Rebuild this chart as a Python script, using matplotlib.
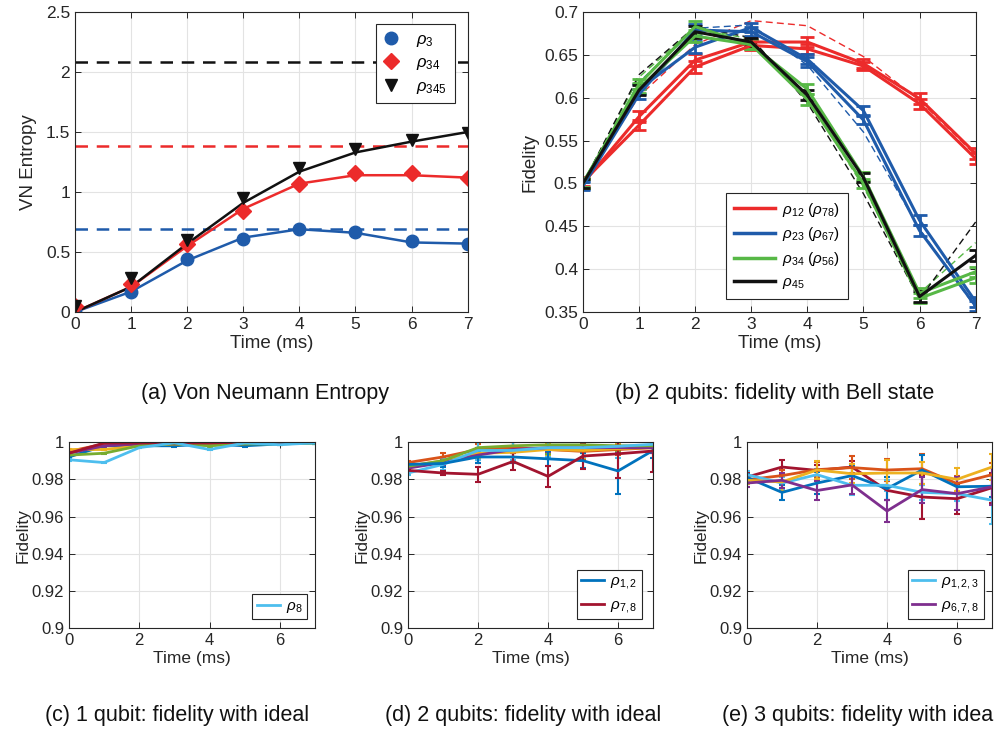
import numpy as np
import matplotlib
matplotlib.use('Agg')
import matplotlib.pyplot as plt
from matplotlib.lines import Line2D
from matplotlib.ticker import FuncFormatter

plt.rcParams['font.family'] = ['Liberation Sans', 'DejaVu Sans']
plt.rcParams['mathtext.fontset'] = 'custom'
plt.rcParams['mathtext.it'] = 'Liberation Sans:italic'
plt.rcParams['mathtext.rm'] = 'Liberation Sans'

time = np.arange(8)

# (a) Von Neumann entropy: measured points and model lines
ent_rho3 = [0.00, 0.17, 0.44, 0.61, 0.69, 0.67, 0.59, 0.57]
ent_rho34 = [0.05, 0.23, 0.57, 0.84, 1.07, 1.16, 1.16, 1.12]
ent_rho345 = [0.05, 0.28, 0.60, 0.95, 1.20, 1.36, 1.43, 1.49]
fit_rho3 = [0.00, 0.17, 0.43, 0.62, 0.69, 0.66, 0.58, 0.57]
fit_rho34 = [0.00, 0.21, 0.55, 0.86, 1.07, 1.14, 1.14, 1.12]
fit_rho345 = [0.00, 0.21, 0.57, 0.91, 1.17, 1.33, 1.42, 1.50]
max_ent = [np.log(2), np.log(4), np.log(8)]

# (b) 2-qubit fidelity with Bell state
bell_rho12 = [0.500, 0.578, 0.644, 0.665, 0.665, 0.640, 0.599, 0.535]
bell_rho78 = [0.502, 0.568, 0.636, 0.661, 0.657, 0.637, 0.593, 0.529]
bell_rho23 = [0.498, 0.610, 0.659, 0.682, 0.645, 0.585, 0.457, 0.362]
bell_rho67 = [0.497, 0.604, 0.679, 0.677, 0.642, 0.574, 0.445, 0.357]
bell_rho34 = [0.500, 0.616, 0.683, 0.662, 0.610, 0.508, 0.372, 0.397]
bell_rho56 = [0.501, 0.611, 0.672, 0.662, 0.598, 0.500, 0.366, 0.390]
bell_rho45 = [0.500, 0.609, 0.677, 0.665, 0.603, 0.507, 0.368, 0.416]
bell_err = [0.005, 0.006, 0.007, 0.005, 0.006, 0.005, 0.006, 0.006]
ideal_12 = [0.500, 0.602, 0.662, 0.690, 0.684, 0.648, 0.597, 0.533]
ideal_23 = [0.500, 0.618, 0.681, 0.685, 0.638, 0.560, 0.447, 0.355]
ideal_34 = [0.500, 0.624, 0.682, 0.668, 0.600, 0.496, 0.372, 0.431]
ideal_45 = [0.500, 0.627, 0.683, 0.670, 0.594, 0.488, 0.365, 0.455]

# (c) 1 qubit fidelity with ideal
q1_fid = [
    [0.992, 0.998, 0.998, 0.998, 0.999, 0.998, 0.999, 0.9995],
    [0.995, 0.999, 0.999, 0.999, 0.999, 0.999, 1.000, 1.000],
    [0.996, 0.996, 0.998, 0.999, 0.999, 0.9995, 0.9995, 1.000],
    [0.994, 0.998, 0.999, 0.999, 0.9995, 0.9995, 0.9995, 1.000],
    [0.993, 0.994, 0.998, 0.999, 0.998, 0.999, 0.999, 0.9995],
    [0.994, 0.9995, 0.9995, 0.9995, 0.9995, 1.000, 0.9995, 1.000],
    [0.9905, 0.989, 0.997, 0.9996, 0.996, 0.9995, 0.9986, 0.9996],
]
q1_colors = ['#0072BD', '#D95319', '#EDB120', '#7E2F8E', '#77AC30', '#A2142F', '#4DBEEE']
q1_labels = [None, None, None, None, None, None, r'$\rho_8$']

# (d) 2 qubits fidelity with ideal
q2_fid = [
    [0.989, 0.992, 0.996, 0.997, 0.996, 0.995, 0.996, 0.997],
    [0.987, 0.990, 0.994, 0.9945, 0.996, 0.9955, 0.9965, 0.997],
    [0.986, 0.989, 0.993, 0.996, 0.997, 0.997, 0.997, 0.997],
    [0.987, 0.990, 0.997, 0.998, 0.9985, 0.9985, 0.998, 0.998],
    [0.9834, 0.988, 0.9955, 0.9955, 0.997, 0.997, 0.9977, 0.9988],
    [0.988, 0.9885, 0.992, 0.992, 0.991, 0.990, 0.9845, 0.9955],
    [0.9848, 0.9834, 0.9827, 0.9896, 0.9816, 0.9925, 0.9937, 0.9952],
]
q2_err = [
    [0.001, 0.002, 0.003, 0.003, 0.003, 0.004, 0.003, 0.003],
    [0.001, 0.002, 0.003, 0.006, 0.003, 0.004, 0.003, 0.003],
    [0.001, 0.002, 0.004, 0.006, 0.003, 0.003, 0.003, 0.003],
    [0.001, 0.002, 0.003, 0.003, 0.005, 0.003, 0.003, 0.003],
    [0.001, 0.003, 0.005, 0.005, 0.005, 0.005, 0.006, 0.004],
    [0.001, 0.002, 0.003, 0.003, 0.004, 0.004, 0.0125, 0.004],
    [0.001, 0.001, 0.004, 0.0045, 0.0055, 0.007, 0.013, 0.011],
]
q2_colors = ['#D95319', '#EDB120', '#7E2F8E', '#77AC30', '#4DBEEE', '#0072BD', '#A2142F']
q2_labels = [None, None, None, None, None, r'$\rho_{1,2}$', r'$\rho_{7,8}$']

# (e) 3 qubits fidelity with ideal
q3_fid = [
    [0.9812, 0.9866, 0.9848, 0.9866, 0.9741, 0.9705, 0.9696, 0.9755],
    [0.9798, 0.9820, 0.9852, 0.9863, 0.9850, 0.9857, 0.9777, 0.9825],
    [0.9810, 0.9730, 0.9780, 0.9820, 0.9750, 0.9850, 0.9760, 0.9763],
    [0.9825, 0.9780, 0.9825, 0.9768, 0.9768, 0.9730, 0.9723, 0.9688],
    [0.9795, 0.9786, 0.9850, 0.9830, 0.9834, 0.9834, 0.9800, 0.9866],
    [0.9780, 0.9795, 0.9740, 0.9770, 0.9630, 0.9745, 0.9723, 0.9760],
]
q3_err = [
    [0.002, 0.004, 0.003, 0.003, 0.005, 0.012, 0.008, 0.008],
    [0.002, 0.003, 0.004, 0.006, 0.006, 0.008, 0.004, 0.006],
    [0.002, 0.004, 0.006, 0.005, 0.006, 0.008, 0.004, 0.006],
    [0.002, 0.003, 0.003, 0.005, 0.003, 0.004, 0.004, 0.013],
    [0.002, 0.005, 0.005, 0.005, 0.007, 0.006, 0.006, 0.007],
    [0.002, 0.004, 0.005, 0.005, 0.006, 0.007, 0.009, 0.010],
]
q3_colors = ['#A2142F', '#D95319', '#0072BD', '#4DBEEE', '#EDB120', '#7E2F8E']
q3_labels = [None, None, None, r'$\rho_{1,2,3}$', None, r'$\rho_{6,7,8}$']

RED = '#EC2B2B'
BLUE = '#1F5BAA'
GREEN = '#57B846'
BLACK = '#111111'
AXC = '#262626'


def matlab_style(ax, fs, lfs):
    ax.set_xlim(0, 7)
    ax.grid(True, color='#e3e3e3', lw=0.8)
    ax.set_axisbelow(True)
    ax.tick_params(direction='in', top=True, right=True, labelsize=fs,
                   colors=AXC, length=4, width=0.7)
    for s in ax.spines.values():
        s.set_color(AXC)
        s.set_linewidth(0.8)
    ax.yaxis.set_major_formatter(FuncFormatter(lambda v, p: '%g' % round(v, 4)))
    ax.set_xlabel('Time (ms)', fontsize=lfs, color=AXC, labelpad=2)


def frame(leg):
    leg.get_frame().set_linewidth(0.8)
    leg.get_frame().set_edgecolor(AXC)


fig = plt.figure(figsize=(9.94, 7.29), dpi=100)

# (a)
ax = fig.add_axes([0.0755, 0.572, 0.395, 0.4115])
for val, c in zip(max_ent, [BLUE, RED, BLACK]):
    ax.axhline(val, color=c, ls=(0, (5, 3.5)), lw=1.8)
ax.plot(time, fit_rho3, color=BLUE, lw=1.8)
ax.plot(time, fit_rho34, color=RED, lw=1.8)
ax.plot(time, fit_rho345, color=BLACK, lw=1.8)
ax.plot(time, ent_rho3, 'o', color=BLUE, ms=9, label=r'$\rho_3$')
ax.plot(time, ent_rho34, 'D', color=RED, ms=8, label=r'$\rho_{34}$')
ax.plot(time, ent_rho345, 'v', color=BLACK, ms=9, label=r'$\rho_{345}$')
ax.set_ylim(0, 2.5)
ax.set_yticks([0, 0.5, 1, 1.5, 2, 2.5])
matlab_style(ax, 12.5, 13.5)
ax.set_ylabel('VN Entropy', fontsize=13.5, color=AXC, labelpad=6)
frame(ax.legend(loc='upper right', bbox_to_anchor=(0.967, 0.96), fontsize=12,
                fancybox=False, framealpha=1, handlelength=1.0, handletextpad=1.0,
                borderpad=0.45, labelspacing=0.4, borderaxespad=0))

# (b)
ax = fig.add_axes([0.5865, 0.572, 0.395, 0.4115])
for ideal, c in [(ideal_12, RED), (ideal_23, BLUE), (ideal_34, GREEN), (ideal_45, BLACK)]:
    ax.plot(time, ideal, color=c, ls=(0, (5, 3)), lw=1.0)
pairs = [(bell_rho12, bell_rho78, RED), (bell_rho23, bell_rho67, BLUE),
         (bell_rho34, bell_rho56, GREEN), (bell_rho45, None, BLACK)]
for a, b, c in pairs:
    for series in (a, b):
        if series is None:
            continue
        ax.errorbar(time, series, yerr=bell_err, color=c, lw=2.2, capsize=5,
                    capthick=2, elinewidth=2)
ax.set_ylim(0.35, 0.7)
ax.set_yticks(np.arange(0.35, 0.701, 0.05))
matlab_style(ax, 12.5, 13.5)
ax.set_ylabel('Fidelity', fontsize=13.5, color=AXC)
handles = [Line2D([], [], color=c, lw=2.5) for c in (RED, BLUE, GREEN, BLACK)]
labels = [r'$\rho_{12}$ ($\rho_{78}$)', r'$\rho_{23}$ ($\rho_{67}$)',
          r'$\rho_{34}$ ($\rho_{56}$)', r'$\rho_{45}$']
frame(ax.legend(handles, labels, loc='upper left', bbox_to_anchor=(0.364, 0.397),
                fontsize=11, fancybox=False, framealpha=1, handlelength=2.7,
                handletextpad=0.5, borderpad=0.5, labelspacing=0.45, borderaxespad=0))


def small_panel(rect, fids, errs, colors, labels, anchor):
    ax = fig.add_axes(rect)
    handles, names = [], []
    for fid, err, c, lab in zip(fids, errs, colors, labels):
        ax.errorbar(time, fid, yerr=err, color=c, lw=2, capsize=2.5, capthick=1.5,
                    elinewidth=1.5)
        if lab:
            handles.append(Line2D([], [], color=c, lw=2))
            names.append(lab)
    ax.set_ylim(0.9, 1.0)
    ax.set_yticks(np.arange(0.9, 1.001, 0.02))
    ax.set_xticks([0, 2, 4, 6])
    matlab_style(ax, 12, 12.5)
    ax.set_ylabel('Fidelity', fontsize=12.5, color=AXC, labelpad=1)
    frame(ax.legend(handles, names, loc='lower right', bbox_to_anchor=anchor, fontsize=11,
                    fancybox=False, framealpha=1, handlelength=1.5, handletextpad=0.4,
                    borderpad=0.3, labelspacing=0.45, borderaxespad=0))
    return ax


small_panel([0.0694, 0.138, 0.2475, 0.2556], q1_fid, [[0.0004] * 8] * len(q1_fid),
            q1_colors, q1_labels, (0.967, 0.048))
small_panel([0.4105, 0.138, 0.2465, 0.2556], q2_fid, q2_err, q2_colors, q2_labels, (0.955, 0.048))
small_panel([0.7515, 0.138, 0.2465, 0.2556], q3_fid, q3_err, q3_colors, q3_labels, (0.967, 0.048))

cap = dict(va='center', fontsize=15.5, color='#111111')
fig.text(265 / 994, 1 - 393 / 729, '(a) Von Neumann Entropy', ha='center', **cap)
fig.text(775 / 994, 1 - 393 / 729, '(b) 2 qubits: fidelity with Bell state', ha='center', **cap)
fig.text(177 / 994, 1 - 716 / 729, '(c) 1 qubit: fidelity with ideal', ha='center', **cap)
fig.text(523 / 994, 1 - 716 / 729, '(d) 2 qubits: fidelity with ideal', ha='center', **cap)
# the source figure is cropped at its right edge, so this caption runs off the page
fig.text(722 / 994, 1 - 716 / 729, '(e) 3 qubits: fidelity with ideal', ha='left', **cap)

fig.savefig('out.png', dpi=100)
